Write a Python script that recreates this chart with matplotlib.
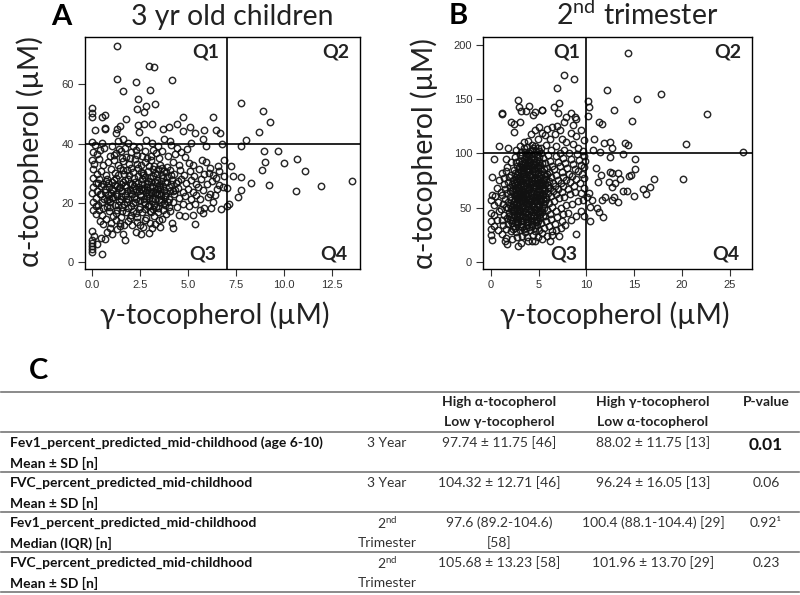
import matplotlib
matplotlib.use("Agg")
import matplotlib.pyplot as plt
import numpy as np

plt.rcParams['font.family'] = ['Lato', 'Open Sans', 'DejaVu Sans']
plt.rcParams['mathtext.fontset'] = 'custom'
plt.rcParams['mathtext.rm'] = 'Lato'

# gamma, alpha values
children_outer = [
    (1.3,73.1),(1.27,61.7),(2.26,60.8),(2.95,66.2),(3.23,65.8),(4.15,61.4),(1.58,57.8),(3.0,58.2),(2.4,55),(3.26,53.2),
    (2.33,51.6),(2.8,52.6),(2.7,50.7),(0,51.9),(0,50.2),(0,49.1),(0.49,49.1),(0.68,49.8),(1.74,48.4),(4.7,48.8),
    (6.3,48.8),(2.36,46.3),(2.67,46.6),(3.09,46.6),(5.09,45.7),(4.4,46.6),(4.0,45.7),(3.7,44.9),(0.14,44.7),(0.68,45.2),
    (0.66,45.0),(1.27,44.8),(1.44,45.9),(1.23,43.5),(2.41,43.8),(4.74,44.4),(5.35,43.7),(5.83,44.6),(6.44,44.7),(6.67,43.4),
    (5.76,41.7),(7.73,53.7),(8.89,50.9),(9.25,47.4),(8.68,43.8),(8.02,41.1),(7.74,39.2),(8.96,37.5),(9.65,37.5),(9.0,33.9),
    (9.97,33.3),(10.66,34.8),(11.09,30.6),(8.82,31),(9.2,25.9),(8.28,26.6),(10.59,24.1),(11.89,25.8),(13.5,27.2),(7.73,28.8),
    (7.34,29),(7.22,32.5),(7.76,24.3),(7.6,22),(7,25),(7.13,19.6),(7,19),(6.68,17.8),(6.88,34.5),(6.74,39.9),
    (0.49,2.8),(0,3.5),(0,4.5),(0,5.5),(0,6.5),(0,7.3),(0.1,8.9),(0,10.5),(0.25,6.1),(0.45,8),
    (0.65,7.6),(0.75,10),(1.05,9.3),(1.3,11),(1.6,9.3),(1.7,7.5),(2.25,10.2),(2.55,9.3),(2.95,9.8),(3.1,11.5),
    (2.65,11.8),(3.55,11.8),(4.15,13.3),(4.2,11.5),(5.35,12.9),(4.5,16),(4.85,15.6),(5.25,16),(5.6,17.5),(5.75,16.5),
]
children_cloud = [
    (0,40.6),(0.15,39.4),(0.5,40.2),(0.62,38.4),(1.0,39.1),(1.32,40.8),(1.6,41.6),(1.86,40.2),(2.1,39.3),(2.42,38.9),
    (2.81,41.1),(3.12,40.3),(3.41,39.1),(3.72,41.5),(4.03,40.7),(4.08,39.6),(4.42,38.4),(4.92,38.1),(5.12,40.1),(5.92,39.2),
    (0.02,37.1),(0.22,36.4),(0.41,37.8),(0.92,35.7),(1.21,36.9),(1.52,37.5),(1.73,35.6),(2.03,37.3),(2.31,36.1),(2.72,37.6),
    (3.04,35.9),(3.33,36.8),(3.62,37.4),(3.93,35.8),(4.31,36.3),(4.63,37.1),(4.84,35.5),(0,34.4),(0.11,33.1),(0.33,34.7),
    (0.56,32.6),(0.81,33.9),(1.13,34.5),(1.36,32.9),(1.62,34.1),(1.91,33.2),(2.21,34.8),(2.53,32.7),(2.76,33.7),(3.06,34.3),
    (3.22,32.4),(3.53,32.8),(4.22,33.6),(4.51,32.9),(5.03,33.4),(5.22,32.6),(5.71,34.3),(5.93,33.8),(6.12,31.9),(6.53,32.4),
    (0.04,31.4),(0.24,29.7),(0.46,30.8),(0.72,29.2),(0.96,31.3),(1.18,30.1),(1.42,31.7),(1.66,29.6),(1.83,31.1),(2.12,30.3),
    (2.36,31.6),(2.62,29.4),(2.91,30.7),(3.15,31.3),(3.38,29.8),(3.61,31.8),(3.83,30.4),(4.06,31.2),(4.28,29.6),(4.57,30.9),
    (4.79,29.3),(5.08,30.6),(5.31,29.1),(5.58,31.4),(5.83,29.7),(6.06,30.2),(6.31,29.4),(6.62,30.7),(6.84,29.1),(6.45,28.2),
    (0.03,28.3),(0.18,26.7),(0.37,27.9),(0.58,26.2),(0.78,28.1),(1.02,26.9),(1.24,28.4),(1.47,26.4),(1.71,27.7),(1.94,26.6),
    (2.16,28.2),(2.39,26.8),(2.58,27.9),(2.83,26.3),(3.01,28.3),(3.27,27.1),(3.48,26.1),(3.67,28.2),(3.88,26.9),(4.14,27.8),
    (4.37,26.5),(4.63,28.1),(4.88,26.7),(5.14,27.6),(5.41,26.2),(5.67,27.9),(5.96,26.4),(6.22,27.2),(6.58,26.1),(6.78,25.3),
    (0.06,25.4),(0.26,24.1),(0.44,25.7),(0.67,23.6),(0.89,25.2),(1.08,24.3),(1.29,25.8),(1.53,23.9),(1.77,25.3),(1.98,24.2),
    (2.19,25.6),(2.44,23.8),(2.67,25.1),(2.86,24.4),(3.09,25.7),(3.31,23.7),(3.52,25.2),(3.74,24.3),(3.97,25.4),(4.18,23.9),
    (4.46,25.1),(4.71,23.6),(4.96,24.8),(5.24,23.5),(5.52,25.2),(5.79,24.2),(6.14,23.1),(6.49,24.5),(0.01,23.2),(0.21,21.6),
    (0.39,22.9),(0.61,21.2),(0.84,22.7),(1.04,21.5),(1.26,23.1),(1.49,21.3),(1.69,22.6),(1.88,21.1),(2.09,22.9),(2.29,21.4),
    (2.49,22.7),(2.71,21.2),(2.93,23.1),(3.13,21.6),(3.36,22.8),(3.58,21.1),(3.79,22.6),(4.02,21.3),(4.24,22.9),(4.54,21.7),
    (4.82,22.4),(5.12,21.2),(5.38,22.7),(5.63,21.4),(6.02,22.1),(6.27,20.4),(6.41,22.6),(0.05,20.4),(0.19,18.9),(0.52,20.1),
    (0.74,18.6),(0.94,20.3),(1.16,19.1),(1.38,20.6),(1.57,18.7),(1.79,20.2),(2.01,18.9),(2.24,20.4),(2.46,18.5),(2.69,20.1),
    (2.89,18.8),(3.11,20.5),(3.34,18.6),(3.56,20.2),(3.76,19.1),(3.99,18.4),(4.21,20.1),(4.41,18.7),(4.73,19.6),(5.02,18.9),
    (5.33,19.4),(5.81,18.3),(6.17,18.2),(0.02,17.6),(0.17,16.1),(0.34,17.4),(0.48,15.8),(0.71,14.4),(0.87,17.2),(1.06,15.6),
    (1.31,17.5),(1.51,15.3),(1.76,16.9),(1.96,14.9),(2.14,17.3),(2.34,15.2),(2.59,16.8),(2.79,14.7),(2.99,17.1),(3.19,15.4),
    (3.44,16.7),(3.64,14.4),(3.84,16.3),(4.06,17.2),(0.38,13.7),(0.58,12.8),(0.98,13.1),(1.21,14.2),(1.44,13.1),(1.67,12.4),
    (1.87,13.8),(2.07,12.3),(2.31,13.6),(2.51,12.6),(2.74,14.1),(3.02,13.2),(3.24,12.7),(3.46,14.1),(0.92,11.6),(1.43,12.1),
]
# the dark patch in the middle of panel A
children_dense = [
    (0.66,24.6),(0.82,26.7),(0.95,23.4),(1.12,27.8),(1.27,22.3),(1.41,24.9),(1.58,27.1),(1.64,19.6),(1.81,23.8),(1.92,29.3),
    (2.06,26.2),(2.13,19.8),(2.27,24.8),(2.36,28.9),(2.41,17.9),(2.53,22.2),(2.61,26.4),(2.66,30.1),(2.77,19.4),(2.81,23.6),
    (2.88,27.2),(2.97,21.7),(3.03,25.2),(3.08,16.8),(3.17,28.9),(3.21,19.2),(3.29,23.2),(3.35,26.6),(3.43,31.4),(3.47,20.8),
    (3.55,24.6),(3.63,29.4),(3.69,17.6),(3.77,27.1),(3.81,21.8),(3.91,32.2),(4.04,24.1),(4.12,29.2),(0.74,20.9),(0.91,18.4),
    (1.09,21.9),(1.22,16.6),(1.36,19.3),(1.47,22.4),(1.55,17.2),(1.73,21.2),(1.86,18.2),(1.99,23.3),(2.04,15.9),(2.19,21.9),
    (2.28,16.4),(2.47,20.9),(2.56,24.7),(2.72,17.8),(2.84,22.4),(2.94,19.3),(3.06,23.3),(3.16,17.9),(3.26,21.2),(3.39,24.7),
    (3.42,18.2),(3.59,22.6),(3.71,19.8),(3.86,23.2),(3.94,20.2),(1.17,26.1),(1.33,29.4),(1.46,25.3),(1.59,31.2),(1.69,25.9),
    (1.84,28.1),(2.02,31.7),(2.11,24.4),(2.23,26.9),(2.32,33.2),(2.44,25.4),(2.52,30.3),(2.64,24.3),(2.74,28.8),(2.87,25.3),
    (2.96,32.3),(3.05,27.1),(3.14,24.1),(3.24,30.2),(3.37,27.6),(3.46,23.1),(3.57,27.4),(3.66,25.6),(3.73,30.8),(3.89,28.7),
    (0.29,19.3),(0.43,23.1),(0.31,26.8),(0.54,18.1),(0.69,27.3),(0.86,21.4),(1.01,24.8),(4.11,26.2),(4.33,24.3),(4.47,27.2),
    (1.12,36.2),(1.41,38.2),(1.68,38.4),(1.97,35.1),(2.26,37.9),(2.57,35.7),(2.84,35.1),(3.16,37.9),(3.48,35.2),(1.57,35.1),
]

# gamma, alpha values
trimester_outer = [
    (14.3,192.3),(7.7,172.7),(8.75,168.4),(6.93,160.7),(12.2,158.5),(17.8,155.1),(15.3,150.2),(10.2,148.7),(10.28,143.2),(10.14,134.9),
    (12.86,139.8),(22.6,136.1),(2.89,149),(7.18,146.2),(6.59,142.5),(7.04,137),(3,143.2),(4,143.5),(3.69,139.5),(3.14,139.2),
    (4.63,138.6),(4.46,135.2),(5.33,139.8),(5.4,140.1),(1.15,136.7),(1.2,137.4),(2.13,128.7),(2.44,127.2),(3.03,129.3),(2.47,119.8),
    (11.36,129.3),(11.67,127.5),(14.74,129.6),(8.36,137.6),(8.8,133.9),(7.9,133.6),(7.63,129.3),(8.64,126.3),(8.9,131.5),(10.84,113),
    (11.85,109.7),(12.5,110.6),(12.7,105),(14.08,109.4),(14.3,107.8),(20.45,108.8),(26.4,101),(10.73,103.5),(11.43,101.7),(12.44,97),
    (13.87,99.8),(15.08,94.6),(15.12,85.7),(14.7,80),(14.46,79.6),(11,86.6),(11.53,80.2),(11.25,73.4),(12.47,83.3),(12.65,81.8),
    (13.28,82.3),(13.48,76.8),(12.37,73.7),(13,72.5),(12.7,69.4),(13.8,65.1),(14.25,65.4),(12.86,60.2),(15,60.5),(11.95,60.2),
    (11.64,57.1),(12.65,56.8),(13.28,55.3),(15.9,67.3),(16.2,62.4),(16.65,69.4),(17.1,76.2),(20.07,76.5),(11.78,41.2),(10.35,37.5),
    (11.08,49.5),(11.3,45.8),(10.38,51),(10.63,57.1),(10.3,63.3),(10.03,60.2),(8.92,26.1),(7.18,24.3),(6.17,19),(4.63,19.7),
    (2.89,14.4),(1.7,16.9),(1.46,19.7),(0.14,20.6),(0,24.9),(0,30.7),(0,37.5),(0,45.2),(0,57),(0.1,61.8),
    (0.17,78.3),(0.38,94.6),(0.9,106.6),(1.8,105.4),(1.6,94.6),(3.2,17.5),(3.9,19.2),(4.3,19.1),(5.4,26.5),(6.4,28.1),
]
trimester_cloud = [
    (2.6,103.4),(3.1,106.8),(3.5,110.3),(3.9,111.2),(4.3,107.6),(4.9,113.7),(5.4,118.6),(5.9,122.4),(6.4,124.3),(6.9,125.8),
    (4.2,118.2),(4.6,121.3),(5.1,124.2),(5.7,117.3),(6.2,113.1),(6.7,117.6),(7.2,121.2),(7.4,113.8),(7.9,110.7),(8.4,118.6),
    (8.9,116.2),(9.4,121.3),(9.7,112.4),(9.1,105.3),(8.6,108.4),(7.7,103.6),(7.2,100.8),(6.8,107.2),(6.3,103.4),(5.8,108.2),
    (5.3,104.6),(4.7,102.1),(4.1,102.6),(3.6,101.4),(3.1,98.6),(2.5,96.8),(2.1,92.4),(1.7,87.3),(1.2,82.4),(1.9,78.2),
    (0.9,75.4),(1.4,72.3),(0.7,68.6),(1.1,64.2),(0.5,61.2),(0.8,55.3),(0.4,52.8),(0.9,47.1),(0.3,43.6),(0.7,38.8),
    (0.4,33.2),(0.8,29.6),(1.2,26.1),(1.6,22.4),(2.2,21.3),(2.7,23.1),(3.3,24.2),(3.8,22.6),(4.4,24.8),(4.9,22.7),
    (5.4,21.4),(5.9,23.8),(6.4,25.3),(6.8,29.2),(7.3,31.4),(7.8,34.2),(8.4,38.6),(8.9,42.4),(9.4,47.3),(9.8,42.8),
    (8.1,45.2),(7.4,37.6),(6.7,35.4),(6.1,33.2),(5.6,31.6),(5.1,29.4),(4.6,28.1),(4.1,29.8),(3.6,27.7),(3.1,29.3),
    (2.6,27.4),(2.1,28.3),(1.6,30.2),(1.3,33.8),(1.8,35.4),(2.3,33.1),(2.8,34.7),(3.3,32.6),(3.8,34.1),(4.3,32.8),
    (4.8,34.4),(5.3,35.7),(5.8,37.3),(6.3,39.2),(6.9,41.4),(7.6,44.1),(1.2,38.6),(1.7,40.4),(2.2,38.3),(2.7,39.7),
    (3.2,37.8),(3.7,39.4),(4.2,37.6),(4.7,39.1),(5.2,40.8),(5.7,42.3),(6.2,44.6),(6.8,47.2),(7.3,49.8),(7.9,52.4),
    (8.5,53.1),(9.1,55.8),(9.6,57.4),(1.4,43.2),(1.9,45.1),(2.4,43.4),(2.9,44.8),(3.4,42.7),(3.9,44.3),(4.4,42.6),
    (4.9,44.7),(5.4,46.3),(5.9,48.1),(6.4,50.4),(1.1,48.6),(1.6,50.3),(2.1,48.4),(2.6,49.8),(3.1,47.7),(3.6,49.3),
    (4.1,47.6),(4.6,49.2),(5.1,51.3),(5.6,53.2),(6.1,54.8),(6.6,56.4),(7.1,58.6),(7.7,60.2),(8.3,62.4),(8.8,64.8),
    (9.4,63.2),(9.8,68.4),(1.3,53.4),(1.8,55.2),(2.3,53.3),(2.8,54.7),(3.3,52.6),(3.8,54.2),(4.3,52.4),(4.8,54.1),
    (5.3,56.3),(5.8,58.2),(6.3,60.4),(6.8,62.3),(7.4,64.1),(8.1,67.2),(8.7,70.4),(9.3,72.6),(9.7,77.1),(1.5,58.3),
    (2.0,60.1),(2.5,58.2),(3.0,59.7),(3.5,57.6),(4.0,59.2),(4.5,57.4),(5.0,59.1),(5.5,61.3),(6.0,63.2),(6.5,65.4),
    (7.0,67.2),(7.6,69.8),(8.3,73.4),(8.9,76.2),(9.5,81.3),(1.2,61.4),(1.7,63.2),(2.2,65.1),(2.7,63.3),(3.2,64.8),
    (3.7,62.6),(4.2,64.2),(4.7,62.4),(5.2,64.1),(5.7,66.3),(6.2,68.2),(6.7,70.4),(7.3,72.6),(7.9,75.4),(8.5,79.2),
    (9.1,83.6),(9.7,87.4),(1.5,67.2),(2.0,69.3),(2.5,70.6),(3.0,68.2),(3.5,69.7),(4.0,67.6),(4.5,69.3),(5.0,67.4),
    (5.5,69.1),(6.0,71.3),(6.5,73.2),(7.0,75.4),(7.6,78.2),(8.2,81.4),(8.8,85.6),(9.4,89.2),(9.9,92.8),(1.8,73.4),
    (2.3,75.2),(2.8,73.3),(3.3,74.7),(3.8,72.6),(4.3,74.2),(4.8,72.4),(5.3,74.1),(5.8,76.3),(6.3,78.2),(6.8,80.4),
    (7.4,83.2),(8.0,86.4),(8.6,90.3),(9.2,94.2),(9.8,97.4),(1.4,77.6),(2.1,80.2),(2.6,78.3),(3.1,79.7),(3.6,77.6),
    (4.1,79.2),(4.6,77.4),(5.1,79.1),(5.6,81.3),(6.1,83.2),(6.6,85.4),(7.2,88.2),(7.8,91.4),(8.4,95.3),(9.0,99.2),
    (9.6,102.6),(1.6,83.6),(2.4,85.2),(2.9,83.3),(3.4,84.7),(3.9,82.6),(4.4,84.2),(4.9,82.4),(5.4,84.1),(5.9,86.3),
    (6.4,88.2),(7.0,92.4),(7.6,96.3),(8.2,100.4),(2.7,88.6),(3.2,90.2),(3.7,88.3),(4.2,89.7),(4.7,87.6),(5.2,89.2),
    (5.7,91.3),(6.2,93.2),(6.8,97.4),(3.0,93.3),(3.5,95.2),(4.0,93.6),(4.5,95.1),(5.0,93.4),(5.5,96.2),(6.0,98.3),
    (3.3,98.4),(3.8,99.7),(4.3,97.6),(4.8,99.2),(5.3,100.3),(2.9,59.1),(3.4,62.8),(3.9,66.1),(4.4,60.2),(4.9,67.7),
    (2.6,66.4),(3.1,72.1),(3.6,75.3),(4.1,71.2),(4.6,81.3),(2.4,56.2),(2.9,51.3),(3.4,47.2),(3.9,51.2),(4.4,46.1),
    (2.2,50.7),(2.7,41.8),(3.2,35.4),(3.7,31.2),(4.2,40.7),(4.7,36.8),(5.2,48.2),(3.5,86.4),(4.0,91.2),(4.5,86.1),
    (5.1,73.2),(5.6,76.7),(5.2,56.2),(5.6,50.1),(4.8,41.3),(3.0,41.2),(2.5,61.8),(2.2,71.6),(3.3,55.8),(3.8,60.6),
]
# the solid black core of panel B
trimester_dense = [
    (2.25,35.6),(2.55,31.2),(2.85,37.2),(3.15,33.4),(3.45,30.7),(3.75,36.4),(4.05,32.3),(4.35,35.2),(4.65,31.4),(4.95,37.6),
    (2.15,41.2),(2.45,46.8),(2.75,37.4),(3.05,43.1),(3.35,38.2),(3.65,45.7),(3.95,41.6),(4.25,46.9),(4.55,42.8),(4.85,47.3),
    (5.15,44.1),(5.45,42.6),(2.05,52.7),(2.35,47.6),(2.65,53.2),(2.95,48.8),(3.25,50.4),(3.55,46.2),(3.85,48.4),(4.15,55.1),
    (4.45,50.8),(4.75,56.6),(5.05,52.2),(5.35,49.7),(5.65,56.1),(2.15,57.4),(2.45,62.2),(2.75,58.6),(3.05,55.2),(3.35,59.6),
    (3.65,53.7),(3.95,57.1),(4.25,61.3),(4.55,54.6),(4.85,60.2),(5.15,57.8),(5.45,62.7),(5.75,60.1),(2.05,65.2),(2.35,68.4),
    (2.65,61.7),(2.95,65.6),(3.25,61.2),(3.55,67.3),(3.85,63.6),(4.15,68.2),(4.45,65.7),(4.75,70.2),(5.05,62.8),(5.35,67.1),
    (5.65,71.6),(5.95,68.4),(2.45,72.6),(2.75,69.4),(3.05,75.8),(3.35,71.2),(3.65,78.4),(3.95,75.2),(4.25,71.6),(4.55,75.8),
    (4.85,77.6),(5.15,71.2),(5.45,75.4),(5.75,79.2),(6.05,74.8),(2.55,82.4),(2.85,77.2),(3.15,83.6),(3.45,80.8),(3.75,85.4),
    (4.05,81.3),(4.35,87.2),(4.65,83.7),(4.95,86.4),(5.25,80.6),(5.55,85.8),(5.85,81.2),(2.65,92.1),(2.95,87.6),(3.25,93.4),
    (3.55,90.8),(3.85,95.2),(4.15,92.6),(4.45,90.2),(4.75,92.4),(5.05,96.7),(5.35,91.2),(3.15,101.2),(3.45,104.6),(3.75,106.2),
    (4.05,98.2),(4.35,103.4),(4.65,107.2),(4.95,104.8),(2.3,30.4),(2.7,44.4),(3.0,47.2),(3.3,44.6),(3.6,41.2),(3.9,37.7),
    (4.2,43.6),(4.5,38.4),(4.8,50.6),(5.1,46.4),(2.0,38.4),(1.8,49.6),(1.9,42.7),(2.5,37.2),(3.1,53.7),(3.6,55.3),
    (4.0,53.6),(4.3,58.2),(4.6,47.6),(4.9,64.3),(5.2,60.7),(5.5,58.4),(2.4,51.1),(2.7,60.4),(2.9,69.2),(3.2,57.2),
    (3.5,64.4),(3.8,69.2),(4.1,56.7),(4.4,68.6),(4.7,58.3),(5.0,71.4),(5.3,70.6),(5.6,65.2),(2.6,74.2),(3.0,63.2),
    (3.4,77.4),(3.7,73.2),(4.0,73.8),(4.3,78.2),(4.6,73.2),(4.9,75.1),(5.2,77.4),(5.5,73.1),(2.8,81.2),(3.1,76.8),
    (3.4,81.6),(3.7,83.6),(4.0,85.4),(4.3,81.2),(4.6,90.4),(4.9,89.8),(5.2,86.2),(3.0,85.6),(3.3,87.2),(3.6,92.6),
    (3.9,89.1),(4.2,95.8),(4.5,99.4),(4.8,96.7),(5.1,102.2),(3.4,90.4),(3.7,97.2),(4.0,100.6),(4.4,105.3),(3.2,67.7),
]

top_headers = ["High \u03b1-tocopherol", "High \u03b3-tocopherol", "P-value"]
low_headers = ["Low \u03b3-tocopherol", "Low \u03b1-tocopherol"]
row_names = ["Fev1_percent_predicted_mid-childhood (age 6-10)", "FVC_percent_predicted_mid-childhood",
             "Fev1_percent_predicted_mid-childhood", "FVC_percent_predicted_mid-childhood"]
row_stats = ["Mean \u00b1 SD [n]", "Mean \u00b1 SD [n]", "Median (IQR) [n]", "Mean \u00b1 SD [n]"]
row_times = ["3 Year", "3 Year", "2$^{\\mathrm{nd}}$", "2$^{\\mathrm{nd}}$"]
row_high_alpha = ["97.74 \u00b1 11.75 [46]", "104.32 \u00b1 12.71 [46]", "97.6 (89.2-104.6)", "105.68 \u00b1 13.23 [58]"]
row_high_gamma = ["88.02 \u00b1 11.75 [13]", "96.24 \u00b1 16.05 [13]", "100.4 (88.1-104.4) [29]", "101.96 \u00b1 13.70 [29]"]
row_p = ["0.01", "0.06", "0.92\u00b9", "0.23"]


def scatter_panel(fig, box, points, xlim, ylim, xticks, xlabels, yticks, cut_x, cut_y):
    """one tocopherol scatter, box is left/top/right/bottom in pixels"""
    left, top, right, bottom = box
    ax = fig.add_axes([left/800, 1-bottom/595, (right-left)/800, (bottom-top)/595])
    xy = np.array(points)
    ax.plot(xy[:, 0], xy[:, 1], 'o', mfc='none', mec='#111111', ms=4.6, mew=1.05, alpha=0.9)
    ax.axvline(cut_x, color='black', lw=1.2)
    ax.axhline(cut_y, color='black', lw=1.2)
    ax.set_xlim(xlim)
    ax.set_ylim(ylim)
    ax.set_xticks(xticks)
    ax.set_xticklabels(xlabels)
    ax.set_yticks(yticks)
    ax.tick_params(labelsize=8, length=5, width=0.8, pad=3, colors='#333333', labelfontfamily='Liberation Sans')
    for s in ax.spines.values():
        s.set_linewidth(1.0)
    return ax


fig = plt.figure(figsize=(8, 5.95), dpi=100)

scatter_panel(fig, (85, 37, 360, 269), children_outer + children_cloud + children_dense, (-0.38, 13.94), (-2.4, 76),
              [0, 2.5, 5, 7.5, 10, 12.5], ["0.0", "2.5", "5.0", "7.5", "10.0", "12.5"], [0, 20, 40, 60], 7, 40)
scatter_panel(fig, (483.3, 37, 751.7, 269), trimester_outer + trimester_cloud + trimester_dense, (-0.77, 27.27), (-6.5, 207.4),
              [0, 5, 10, 15, 20, 25], ["0", "5", "10", "15", "20", "25"], [0, 50, 100, 150, 200], 10, 100)

# overlay in pixels for the labels and the table
over = fig.add_axes([0, 0, 1, 1], zorder=5)
over.set_xlim(0, 800)
over.set_ylim(595, 0)
over.axis('off')


def put(x, y, s, size=10, ha='center', weight='normal', color='#333333'):
    over.text(x, y, s, fontsize=size, ha=ha, va='center', fontweight=weight, color=color)


put(61, 17, "A", 21, weight='bold', color='black')
put(458, 16, "B", 21, weight='bold', color='black')
put(38, 371, "C", 21, weight='bold', color='black')
put(232, 17, "3 yr old children", 20.4, color='#222222')
put(637, 15, "2$^{\\mathrm{nd}}$ trimester", 20.4, color='#222222')
put(215, 315, "\u03b3-tocopherol (\u00b5M)", 20.4, color='#222222')
put(615, 315, "\u03b3-tocopherol (\u00b5M)", 20.4, color='#222222')
over.text(30, 152, "\u03b1-tocopherol (\u00b5M)", fontsize=20.4, rotation=90, ha='center', va='center', color='#222222')
over.text(424, 154, "\u03b1-tocopherol (\u00b5M)", fontsize=20.4, rotation=90, ha='center', va='center', color='#222222')

for x, y, s in [(206, 52, "Q1"), (336, 52, "Q2"), (203, 254, "Q3"), (334, 254, "Q4"),
                (567, 52, "Q1"), (728, 52, "Q2"), (564, 254, "Q3"), (726, 254, "Q4")]:
    put(x, y, s, 14, weight='bold', color='#222222')

for y in [392, 432, 472, 512, 552, 592]:
    over.plot([1, 799], [y, y], color='#777777', lw=1.2)

for x, s in zip([499, 653, 766], top_headers):
    put(x, 402, s, weight='bold', color='#222222')
for x, s in zip([499, 653], low_headers):
    put(x, 422, s, weight='bold', color='#222222')

for i in range(4):
    y = 443 + 40*i
    put(10, y, row_names[i], ha='left', weight='bold', color='#111111')
    put(10, y+20, row_stats[i], ha='left', weight='bold', color='#111111')
    put(387, y, row_times[i])
    put(499, y, row_high_alpha[i])
    put(653, y, row_high_gamma[i])
    if i == 0:
        put(766, y+2, row_p[i], 12.5, weight='bold', color='#111111')
    else:
        put(766, y, row_p[i])
put(387, 543, "Trimester")
put(387, 583, "Trimester")
put(499, 543, "[58]")

fig.savefig("out.png", dpi=100)
plt.close(fig)
